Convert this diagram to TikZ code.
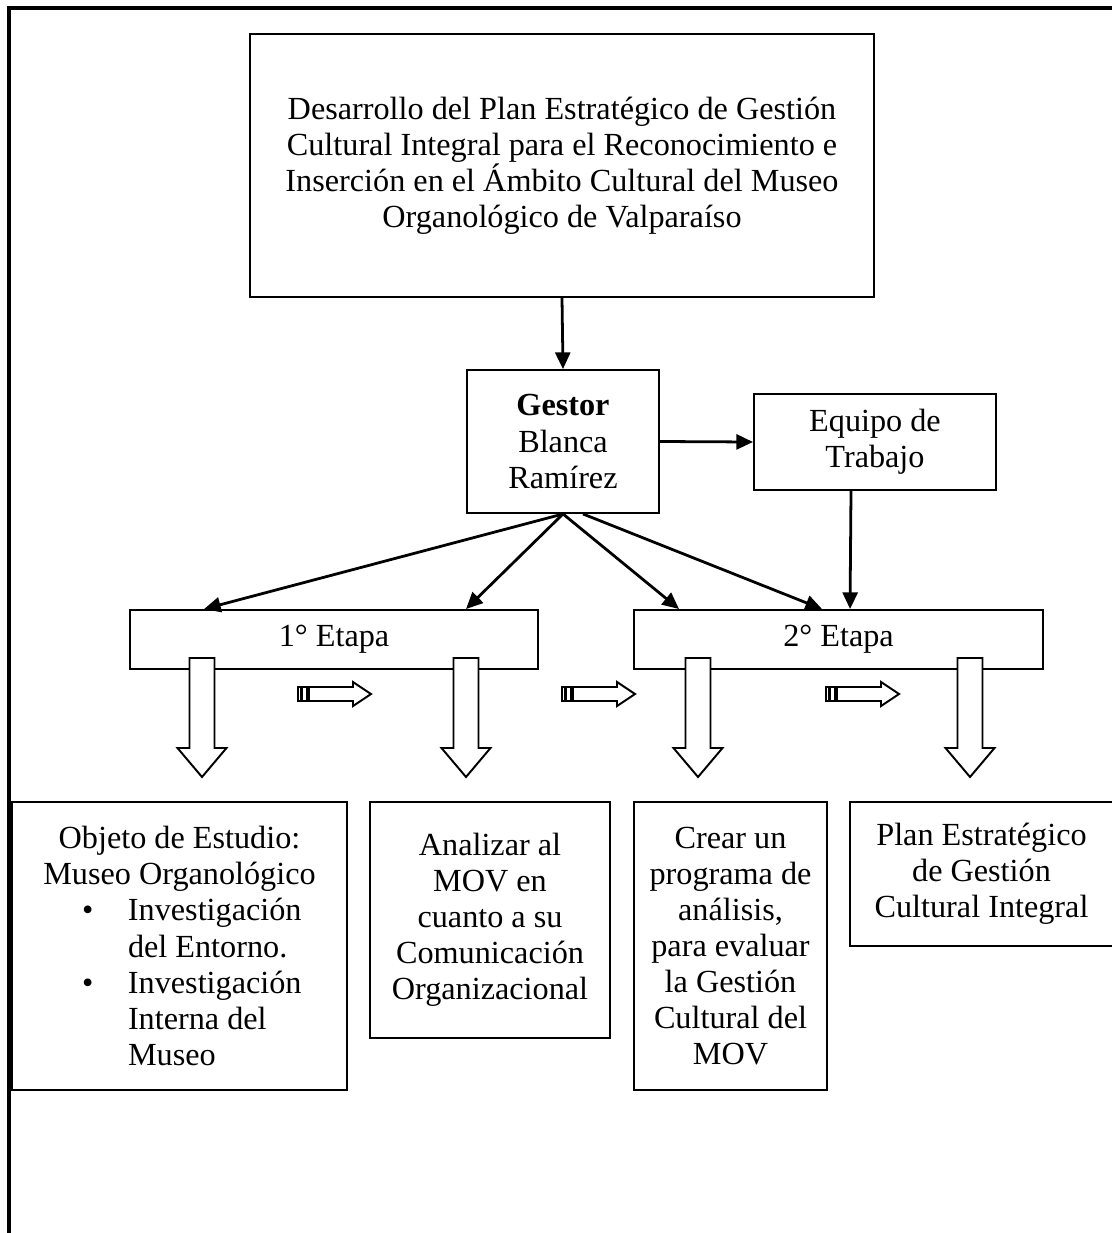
\documentclass[tikz,border=0pt]{standalone}
\usepackage{fontspec}
\setmainfont{Liberation Serif}
\usetikzlibrary{arrows.meta}

\newlength{\px}
\setlength{\px}{0.36pt}
\newcommand{\itemline}[2]{\makebox[195\px][l]{\makebox[46\px][l]{#1}#2}}

\begin{document}
\begin{tikzpicture}[x=0.36pt,y=-0.36pt,>={Triangle[length=6pt,width=5.4pt]},
                    line width=1pt,
                    box/.style={draw,line width=0.7pt,align=center,inner sep=0pt,
                                font=\fontsize{11.6}{13}\selectfont},
                    block/.style={draw,line width=0.7pt,fill=white}]

  \useasboundingbox (0,0) rectangle (1111,1233);
  \draw[line width=1.44pt] (9,1240) -- (9,8) -- (1120,8);

  % boxes
  \node[box,minimum width=624*\px,minimum height=263*\px] (goal) at (562,165.5)
    {Desarrollo del Plan Estratégico de Gestión\\Cultural Integral para el Reconocimiento e\\
     Inserción en el Ámbito Cultural del Museo\\Organológico de Valparaíso};
  \node[box,minimum width=192*\px,minimum height=143*\px] (gestor) at (563,441.5)
    {\textbf{Gestor}\\Blanca\\Ramírez};
  \node[box,minimum width=242*\px,minimum height=96*\px] (equipo) at (875,442)
    {Equipo de\\Trabajo};
  \node[box,minimum width=408*\px,minimum height=59*\px] (etapa1) at (334,639.5) {1° Etapa};
  \node[box,minimum width=409*\px,minimum height=59*\px] (etapa2) at (838.5,639.5) {2° Etapa};

  \node[box,minimum width=335*\px,minimum height=288*\px] (objeto) at (179.5,946)
    {Objeto de Estudio:\\Museo Organológico\\
     \itemline{\textbullet}{Investigación}\\\itemline{}{del Entorno.}\\
     \itemline{\textbullet}{Investigación}\\\itemline{}{Interna del}\\\itemline{}{Museo}};
  \node[box,minimum width=240*\px,minimum height=236*\px] (analizar) at (490,920)
    {Analizar al\\MOV en\\cuanto a su\\Comunicación\\Organizacional};
  \node[box,minimum width=193*\px,minimum height=288*\px] (crear) at (730.5,946)
    {Crear un\\programa de\\análisis,\\para evaluar\\la Gestión\\Cultural del\\MOV};
  \node[box,minimum width=263*\px,minimum height=144*\px] (plan) at (981.5,874)
    {Plan Estratégico\\de Gestión\\Cultural Integral};

  % connectors
  \path[->]
    (goal.south) edge (gestor.north)
    (gestor.east) edge (equipo.west)
    (gestor.south) edge ([xshift=75*\px]etapa1.north west)
    (gestor.south) edge ([xshift=337*\px]etapa1.north west)
    (gestor.south) edge ([xshift=46*\px]etapa2.north west)
    ([xshift=20*\px]gestor.south) edge ([xshift=189*\px]etapa2.north west)
    ([xshift=-24*\px]equipo.south) edge ([xshift=217*\px]etapa2.north west);

  % block arrows down
  \foreach \c in {202,466,698,970}
    \draw[block] (\c-12.5,658) -- (\c+12.5,658) -- (\c+12.5,748) -- (\c+24.5,748)
      -- (\c,777) -- (\c-24.5,748) -- (\c-12.5,748) -- cycle;

  % striped arrows
  \foreach \s in {298,562,826} {
    \draw[block] (\s,687) rectangle (\s+2.5,701);
    \draw[block] (\s+4,687) rectangle (\s+9,701);
    \draw[block] (\s+11,687) -- (\s+55,687) -- (\s+55,682) -- (\s+73,694)
      -- (\s+55,706) -- (\s+55,701) -- (\s+11,701) -- cycle;
  }
\end{tikzpicture}
\end{document}
